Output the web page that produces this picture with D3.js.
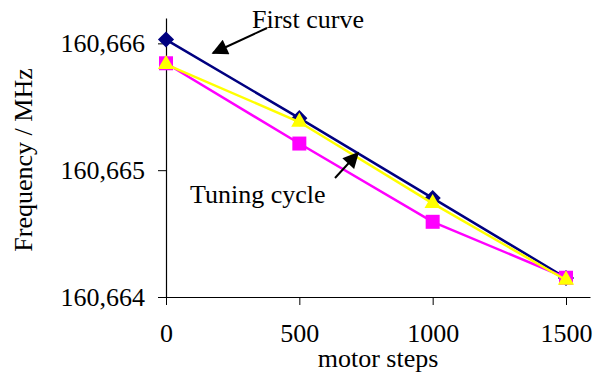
<!DOCTYPE html>
<html>
<head>
<meta charset="utf-8">
<script src="https://cdn.jsdelivr.net/npm/d3@7"></script>
<style>
  body { margin: 0; background: #fff; }
  svg text { font-family: "Liberation Serif", "Times New Roman", serif; fill: #000; }
</style>
</head>
<body>
<div id="chart"></div>
<script>
// values
const steps = [0, 500, 1000, 1500];
const firstCurve = [160.66603, 160.66541, 160.66478, 160.66415];
const tuningA = [160.665843, 160.66521, 160.664593, 160.664152];
const tuningB = [160.665835, 160.66538, 160.664738, 160.664134];
const yTicks = [160.664, 160.665, 160.666];
const xTicks = [0, 500, 1000, 1500];

const width = 593, height = 372;
const margin = { left: 166, right: 3, top: 18, bottom: 75 };
const fontSize = 26;

const svg = d3.select('#chart')
  .append('svg')
  .attr('width', width)
  .attr('height', height);

const x = d3.scaleLinear()
  .domain([0, 1590])
  .range([margin.left, width - margin.right]);

const y = d3.scaleLinear()
  .domain([160.664, 160.6662])
  .range([height - margin.bottom, margin.top]);

const fmt = d => d3.format('.3f')(d).replace('.', ',');

// y axis
const yAxis = svg.append('g')
  .attr('transform', 'translate(' + margin.left + ',0)')
  .call(d3.axisLeft(y).tickValues(yTicks).tickFormat(fmt).tickSize(8).tickPadding(13).tickSizeOuter(0));
yAxis.attr('font-family', null);
yAxis.select('.domain').attr('stroke', '#000').attr('stroke-width', 1.2);
yAxis.selectAll('text').style('font-size', fontSize + 'px');

// x axis
const xAxis = svg.append('g')
  .attr('transform', 'translate(0,' + y(160.664) + ')')
  .call(d3.axisBottom(x).tickValues(xTicks).tickFormat(d3.format('d')).tickSize(8).tickPadding(19).tickSizeOuter(0));
xAxis.attr('font-family', null);
xAxis.select('.domain').attr('stroke', '#000').attr('stroke-width', 1.2);
xAxis.selectAll('text').style('font-size', fontSize + 'px');

// axis titles
svg.append('text')
  .attr('x', (margin.left + width - margin.right) / 2)
  .attr('y', 367)
  .attr('text-anchor', 'middle')
  .style('font-size', fontSize + 'px')
  .text('motor steps');

svg.append('text')
  .attr('transform', 'translate(32,160) rotate(-90)')
  .attr('text-anchor', 'middle')
  .style('font-size', fontSize + 'px')
  .text('Frequency / MHz');

const line = d3.line()
  .x((d, i) => x(steps[i]))
  .y(d => y(d));

const series = [
  { name: 'first', values: firstCurve, color: '#000080', shape: d3.symbolSquare, size: 130, rotate: 45 },
  { name: 'tuningA', values: tuningA, color: '#ff00ff', shape: d3.symbolSquare, size: 196, rotate: 0 },
  { name: 'tuningB', values: tuningB, color: '#ffff00', shape: d3.symbolTriangle, size: 115, rotate: 0 }
];

series.forEach(s => {
  svg.append('path')
    .datum(s.values)
    .attr('fill', 'none')
    .attr('stroke', s.color)
    .attr('stroke-width', 2.5)
    .attr('d', line);

  svg.selectAll('.m-' + s.name)
    .data(s.values)
    .enter()
    .append('path')
    .attr('class', 'm-' + s.name)
    .attr('transform', (d, i) => 'translate(' + x(steps[i]) + ',' + y(d) + ') rotate(' + s.rotate + ')')
    .attr('d', d3.symbol().type(s.shape).size(s.size))
    .attr('fill', s.color);
});

// annotations
svg.append('defs').append('marker')
  .attr('id', 'arrow')
  .attr('viewBox', '0 0 10 10')
  .attr('refX', 9)
  .attr('refY', 5)
  .attr('markerWidth', 20)
  .attr('markerHeight', 16)
  .attr('orient', 'auto')
  .attr('markerUnits', 'userSpaceOnUse')
  .append('path')
  .attr('d', 'M0,0 L10,5 L0,10 z')
  .attr('fill', '#000');

svg.append('text')
  .attr('x', 252)
  .attr('y', 28)
  .style('font-size', fontSize + 'px')
  .text('First curve');

svg.append('line')
  .attr('x1', 267).attr('y1', 28)
  .attr('x2', 213).attr('y2', 53)
  .attr('stroke', '#000')
  .attr('stroke-width', 2)
  .attr('marker-end', 'url(#arrow)');

svg.append('text')
  .attr('x', 190)
  .attr('y', 203)
  .style('font-size', fontSize + 'px')
  .text('Tuning cycle');

svg.append('line')
  .attr('x1', 335).attr('y1', 178)
  .attr('x2', 358).attr('y2', 153)
  .attr('stroke', '#000')
  .attr('stroke-width', 2)
  .attr('marker-end', 'url(#arrow)');
</script>
</body>
</html>
